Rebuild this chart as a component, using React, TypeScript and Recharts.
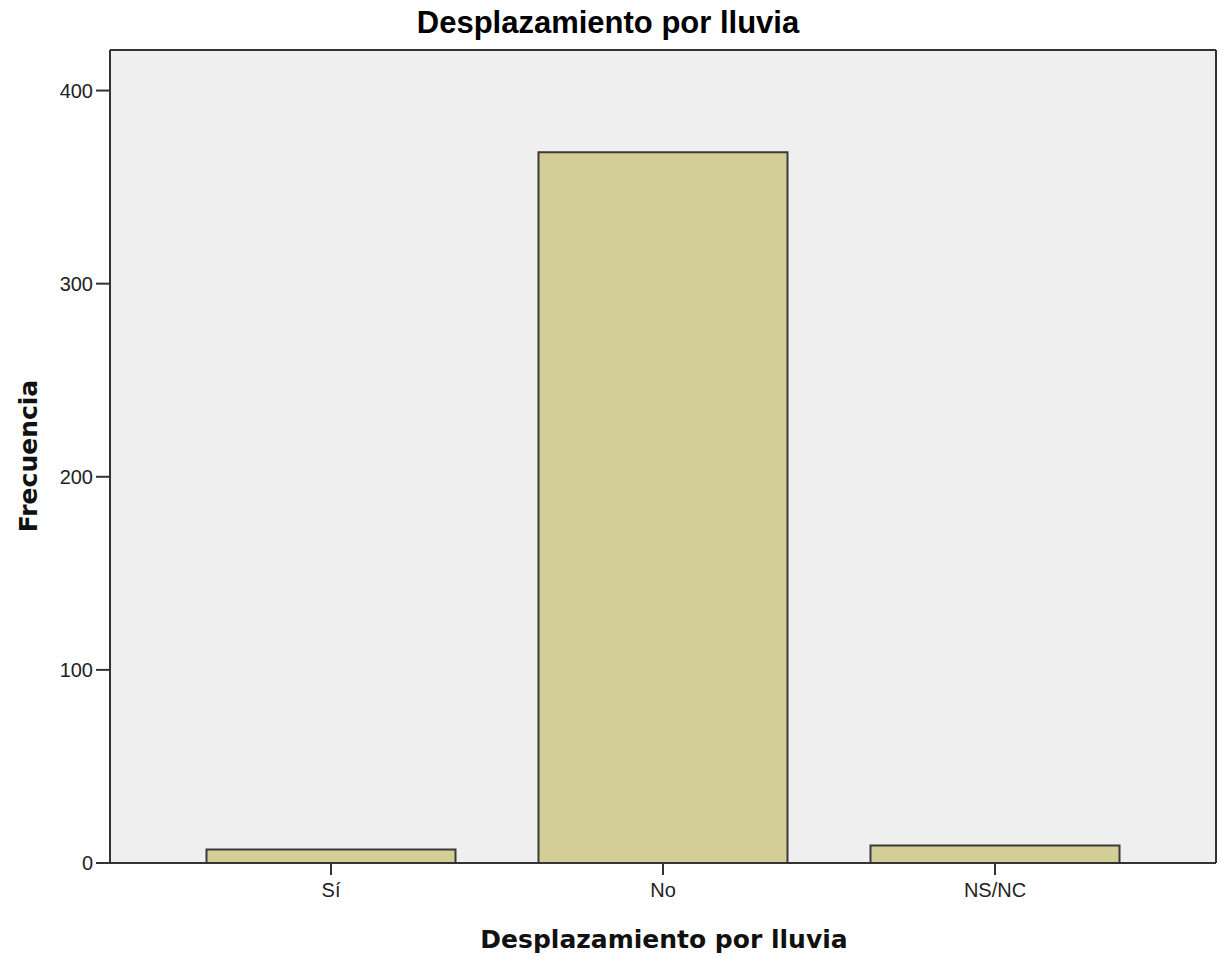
import React from 'react';
import { BarChart, Bar, XAxis, YAxis, CartesianGrid } from 'recharts';

const categories = ['Sí', 'No', 'NS/NC'];
const frequencies = [7, 368, 9];
const yTicks = [0, 100, 200, 300, 400];
const chartTitle = 'Desplazamiento por lluvia';
const xTitle = 'Desplazamiento por lluvia';
const yTitle = 'Frecuencia';

const data = categories.map((name, i) => ({ name, value: frequencies[i] }));

const AXIS = '#333333';
const TICK_FONT = { fontSize: 20, fill: '#222222', fontFamily: '"Liberation Sans", Arial, sans-serif' };

const hBorder = ({ offset }: any) => [offset.top, offset.top + offset.height];
const vBorder = ({ offset }: any) => [offset.left, offset.left + offset.width];

export default function App() {
  return (
    <div style={{ position: 'absolute', left: 0, top: 0, width: 1222, height: 958, background: '#ffffff' }}>
      <BarChart
        width={1222}
        height={958}
        data={data}
        margin={{ top: 50, right: 6, bottom: 0, left: 0 }}
        barCategoryGap="12.5%"
      >
        <CartesianGrid
          fill="#EFEFEF"
          stroke={AXIS}
          strokeWidth={2}
          horizontalCoordinatesGenerator={hBorder}
          verticalCoordinatesGenerator={vBorder}
        />
        <XAxis
          dataKey="name"
          height={95}
          padding={{ left: 55, right: 55 }}
          tickSize={12}
          tickMargin={8}
          tick={TICK_FONT}
          axisLine={{ stroke: AXIS, strokeWidth: 2 }}
          tickLine={{ stroke: AXIS, strokeWidth: 2 }}
        />
        <YAxis
          domain={[0, 421]}
          ticks={yTicks}
          allowDataOverflow
          width={110}
          tickSize={14}
          tickMargin={3}
          tick={TICK_FONT}
          axisLine={{ stroke: AXIS, strokeWidth: 2 }}
          tickLine={{ stroke: AXIS, strokeWidth: 2 }}
        />
        <Bar dataKey="value" fill="#D3CD97" stroke="#3a3a3a" strokeWidth={2} isAnimationActive={false} />
      </BarChart>
      <svg
        width={1222}
        height={958}
        style={{ position: 'absolute', left: 0, top: 0, pointerEvents: 'none' }}
      >
        <text
          x={608}
          y={33}
          textAnchor="middle"
          fontFamily='"Liberation Sans", Arial, sans-serif'
          fontWeight="bold"
          fontSize={31}
          fill="#000000"
        >
          {chartTitle}
        </text>
        <text
          x={664}
          y={948}
          textAnchor="middle"
          fontFamily='"DejaVu Sans", Verdana, sans-serif'
          fontWeight="bold"
          fontSize={25}
          fill="#111111"
        >
          {xTitle}
        </text>
        <text
          x={37}
          y={456}
          textAnchor="middle"
          transform="rotate(-90, 37, 456)"
          fontFamily='"DejaVu Sans", Verdana, sans-serif'
          fontWeight="bold"
          fontSize={25}
          fill="#111111"
        >
          {yTitle}
        </text>
      </svg>
    </div>
  );
}
